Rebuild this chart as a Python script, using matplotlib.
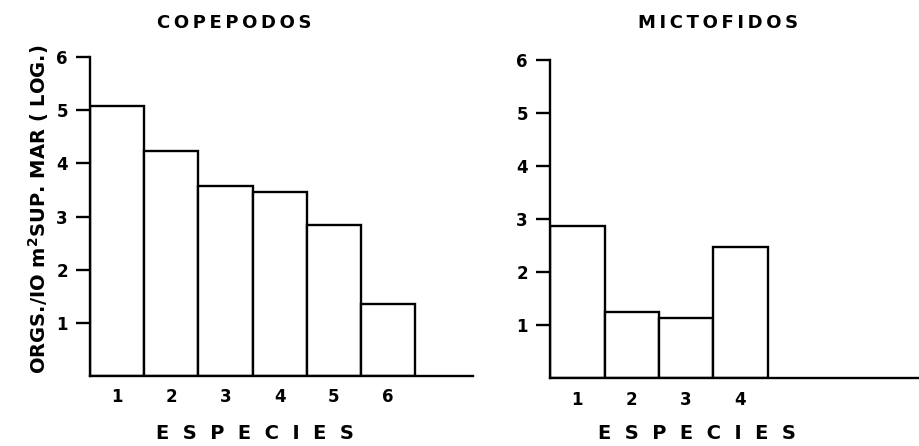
import matplotlib.pyplot as plt

# values (log orgs / 10 m2 sea surface)
cope_species = [1, 2, 3, 4, 5, 6]
cope_values = [5.08, 4.24, 3.57, 3.47, 2.85, 1.35]
micto_species = [1, 2, 3, 4]
micto_values = [2.88, 1.24, 1.13, 2.47]
y_ticks = [1, 2, 3, 4, 5, 6]

plt.rcParams['font.family'] = ['DejaVu Sans']
plt.rcParams['font.weight'] = 'bold'

fig = plt.figure(figsize=(9.2, 4.46), dpi=100)
ax1 = fig.add_axes([0.098, 0.157, 0.416, 0.715])
ax2 = fig.add_axes([0.598, 0.152, 0.402, 0.713])

TS = '\u2009'


def draw_panel(ax, species, values, xmax, title, title_x):
  ax.bar(species, values, width=1.0, facecolor='white', edgecolor='black', linewidth=1.7)
  ax.set_xlim(0.5, xmax)
  ax.set_ylim(0, 6)
  for s in ['top', 'right']:
    ax.spines[s].set_visible(False)
  for s in ['left', 'bottom']:
    ax.spines[s].set_linewidth(1.7)
  ax.set_yticks(y_ticks)
  ax.set_yticklabels([str(t) for t in y_ticks], fontsize=12, fontweight='bold')
  ax.set_xticks(species)
  ax.set_xticklabels([str(s) for s in species], fontsize=12, fontweight='bold')
  ax.tick_params(axis='y', length=10, width=1.7, pad=6)
  ax.tick_params(axis='x', length=0, pad=9)
  fig.text(title_x, 0.948, TS.join(title), ha='center', va='center', fontsize=13, fontweight='bold')


draw_panel(ax1, cope_species, cope_values, 7.57, 'COPEPODOS', 0.255)
draw_panel(ax2, micto_species, micto_values, 7.3, 'MICTOFIDOS', 0.78)

fig.text(0.277, 0.027, 'E  S  P  E  C  I  E  S', ha='center', va='center', fontsize=14, fontweight='bold')
fig.text(0.758, 0.027, 'E  S  P  E  C  I  E  S', ha='center', va='center', fontsize=14, fontweight='bold')
fig.text(0.042, 0.53, r'ORGS./IO m$^\mathbf{2}$SUP. MAR ( LOG.)', rotation=90, ha='center', va='center',
         fontsize=14, fontweight='bold')

fig.savefig('out.png', dpi=100)
